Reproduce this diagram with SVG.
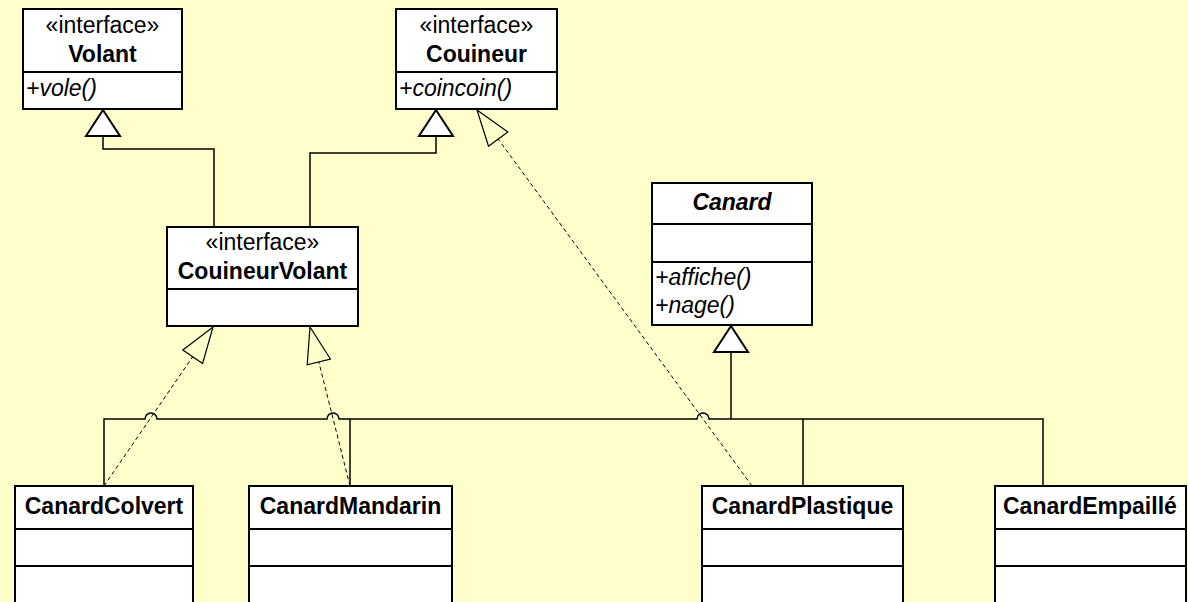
<svg xmlns="http://www.w3.org/2000/svg" width="1188" height="602" viewBox="0 0 1188 602">
  <style>
    .box { fill: #ffffff; stroke: #000000; stroke-width: 2; }
    .sep { stroke: #000000; stroke-width: 2; }
    .t { font-family: "Liberation Sans", Arial, sans-serif; font-size: 23px; fill: #000000; }
    .c { text-anchor: middle; }
    .b { font-weight: bold; }
    .i { font-style: italic; }
    .solid { fill: none; stroke: #000000; stroke-width: 1.5; }
    .dash { fill: none; stroke: #000000; stroke-width: 1; stroke-dasharray: 4 3; }
    .head { fill: #ffffff; stroke: #000000; stroke-width: 2; stroke-linejoin: miter; }
    .headd { fill: #ffffcc; stroke: #000000; stroke-width: 1.2; stroke-linejoin: miter; }
  </style>

  <rect x="0" y="0" width="1188" height="602" fill="#ffffcc"/>

  <!-- connectors -->
  <g id="connectors">
    <!-- CouineurVolant extends Volant and Couineur -->
    <path class="solid" d="M103,136 V149 H214 V227"/>
    <path class="solid" d="M436,136 V153 H310 V227"/>
    <polygon class="head" points="103,110 86,136 120,136"/>
    <polygon class="head" points="436,110 419,136 453,136"/>

    <!-- generalisation bus to Canard -->
    <path class="solid" d="M104,486 V419 H145 A6,6 0 0 1 157,419 H327 A6,6 0 0 1 339,419 H697 A6,6 0 0 1 709,419 H1043 V486"/>
    <path class="solid" d="M350,419 V486"/>
    <path class="solid" d="M803,419 V486"/>
    <path class="solid" d="M731,352 V419"/>
    <polygon class="head" points="731,326 714,352 748,352"/>

    <!-- realisations -->
    <line class="dash" x1="104" y1="486" x2="192.7" y2="356.7"/>
    <polygon class="headd" points="213,327 202.6,363.5 182.8,349.9"/>
    <line class="dash" x1="350" y1="486" x2="318.8" y2="361.9"/>
    <polygon class="headd" points="310,327 330.4,359 307.2,364.8"/>
    <line class="dash" x1="752" y1="486" x2="498.2" y2="139.1"/>
    <polygon class="headd" points="477,110 507.9,132 488.5,146.2"/>
  </g>

  <g id="Volant">
    <rect class="box" x="23" y="9" width="159" height="100"/>
    <line class="sep" x1="23" y1="72" x2="182" y2="72"/>
    <text class="t c" x="102.5" y="33">«interface»</text>
    <text class="t c b" x="102.5" y="62">Volant</text>
    <text class="t i" x="26" y="96">+vole()</text>
  </g>

  <g id="Couineur">
    <rect class="box" x="396" y="9" width="161" height="100"/>
    <line class="sep" x1="396" y1="72" x2="557" y2="72"/>
    <text class="t c" x="476.5" y="33">«interface»</text>
    <text class="t c b" x="476.5" y="62">Couineur</text>
    <text class="t i" x="399" y="96">+coincoin()</text>
  </g>

  <g id="CouineurVolant">
    <rect class="box" x="167" y="227" width="191" height="99"/>
    <line class="sep" x1="167" y1="289" x2="358" y2="289"/>
    <text class="t c" x="262.5" y="250">«interface»</text>
    <text class="t c b" x="262.5" y="279">CouineurVolant</text>
  </g>

  <g id="Canard">
    <rect class="box" x="652" y="183" width="160" height="142"/>
    <line class="sep" x1="652" y1="224" x2="812" y2="224"/>
    <line class="sep" x1="652" y1="262" x2="812" y2="262"/>
    <text class="t c b i" x="732" y="210">Canard</text>
    <text class="t i" x="655" y="285">+affiche()</text>
    <text class="t i" x="655" y="313">+nage()</text>
  </g>

  <g id="CanardColvert">
    <rect class="box" x="15" y="486" width="178" height="130"/>
    <line class="sep" x1="15" y1="529" x2="193" y2="529"/>
    <line class="sep" x1="15" y1="566" x2="193" y2="566"/>
    <text class="t c b" x="104" y="514">CanardColvert</text>
  </g>

  <g id="CanardMandarin">
    <rect class="box" x="249" y="486" width="203" height="130"/>
    <line class="sep" x1="249" y1="529" x2="452" y2="529"/>
    <line class="sep" x1="249" y1="566" x2="452" y2="566"/>
    <text class="t c b" x="350.5" y="514">CanardMandarin</text>
  </g>

  <g id="CanardPlastique">
    <rect class="box" x="702" y="486" width="201" height="130"/>
    <line class="sep" x1="702" y1="529" x2="903" y2="529"/>
    <line class="sep" x1="702" y1="566" x2="903" y2="566"/>
    <text class="t c b" x="802.5" y="514">CanardPlastique</text>
  </g>

  <g id="CanardEmpaille">
    <rect class="box" x="995" y="486" width="191" height="130"/>
    <line class="sep" x1="995" y1="529" x2="1186" y2="529"/>
    <line class="sep" x1="995" y1="566" x2="1186" y2="566"/>
    <text class="t b" x="1003" y="514">CanardEmpaillé</text>
  </g>
</svg>
